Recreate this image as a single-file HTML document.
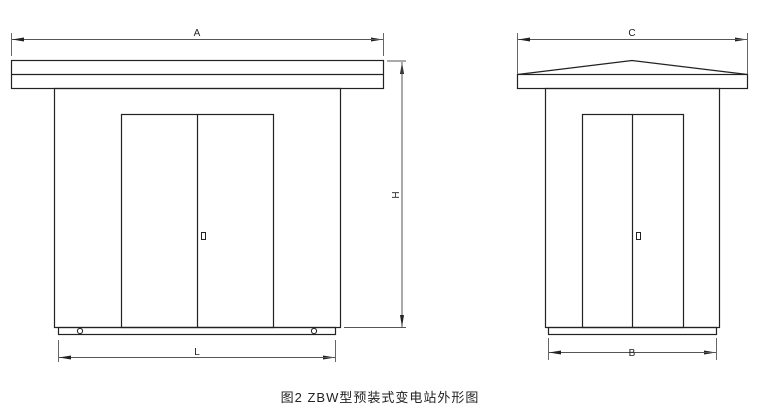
<!DOCTYPE html>
<html><head><meta charset="utf-8"><style>
html,body{margin:0;padding:0;background:#fff;}
svg{display:block;}
text{font-family:"Liberation Sans","Noto Sans CJK SC",sans-serif;fill:#222;}
</style></head><body>
<svg width="780" height="417" viewBox="0 0 780 417" xmlns="http://www.w3.org/2000/svg">
<defs>
<marker id="ar" markerWidth="12" markerHeight="6" refX="12" refY="3" orient="auto" markerUnits="userSpaceOnUse">
<path d="M0,1 L12,3 L0,5 Z" fill="#222"/></marker>
</defs>
<g stroke="#222" fill="none" stroke-width="1.2">
<!-- left view -->
<rect x="11.5" y="60.5" width="372" height="28"/>
<line x1="11.5" y1="74.5" x2="383.5" y2="74.5"/>
<rect x="54.5" y="88.5" width="286" height="239"/>
<rect x="121.5" y="114.5" width="152" height="213"/>
<line x1="197.5" y1="114.5" x2="197.5" y2="327.5"/>
<rect x="201.5" y="232.5" width="4" height="7" stroke-width="1"/>
<rect x="58.5" y="327.5" width="277" height="7"/>
<circle cx="80" cy="331" r="2.6" stroke-width="1"/>
<circle cx="314" cy="331" r="2.6" stroke-width="1"/>
<!-- right view -->
<rect x="517.5" y="74.5" width="230" height="14"/>
<polyline points="517.5,74.5 632,60.5 747.5,74.5"/>
<rect x="545.5" y="88.5" width="174" height="239"/>
<rect x="582.5" y="114.5" width="101" height="213"/>
<line x1="632.5" y1="114.5" x2="632.5" y2="327.5"/>
<rect x="636.5" y="232.5" width="4" height="7" stroke-width="1"/>
<rect x="548.5" y="327.5" width="168" height="7"/>
</g>
<g stroke="#555" stroke-width="0.9" fill="none">
<!-- A -->
<line x1="11.5" y1="33" x2="11.5" y2="56"/><line x1="383.5" y1="33" x2="383.5" y2="56"/>
<line x1="12" y1="39.5" x2="383" y2="39.5" marker-end="url(#ar)" marker-start="url(#ar)" style="marker-start:none"/>
<line x1="383" y1="39.5" x2="12" y2="39.5" marker-end="url(#ar)"/>
<!-- H -->
<line x1="387" y1="61" x2="406" y2="61"/><line x1="344" y1="327.5" x2="406" y2="327.5"/>
<line x1="402" y1="327" x2="402" y2="62" marker-end="url(#ar)"/>
<line x1="402" y1="62" x2="402" y2="327" marker-end="url(#ar)"/>
<!-- L -->
<line x1="58.5" y1="340" x2="58.5" y2="362"/><line x1="335.5" y1="340" x2="335.5" y2="362"/>
<line x1="59" y1="357.5" x2="335" y2="357.5" marker-end="url(#ar)"/>
<line x1="335" y1="357.5" x2="59" y2="357.5" marker-end="url(#ar)"/>
<!-- C -->
<line x1="517.5" y1="33" x2="517.5" y2="74"/><line x1="747.5" y1="33" x2="747.5" y2="74"/>
<line x1="518" y1="39.5" x2="747" y2="39.5" marker-end="url(#ar)"/>
<line x1="747" y1="39.5" x2="518" y2="39.5" marker-end="url(#ar)"/>
<!-- B -->
<line x1="548.5" y1="338" x2="548.5" y2="360"/><line x1="716.5" y1="338" x2="716.5" y2="360"/>
<line x1="549" y1="352.5" x2="716" y2="352.5" marker-end="url(#ar)"/>
<line x1="716" y1="352.5" x2="549" y2="352.5" marker-end="url(#ar)"/>
</g>
<text x="197" y="36" font-size="10" text-anchor="middle">A</text>
<text x="632" y="36" font-size="10" text-anchor="middle">C</text>
<text x="197" y="355" font-size="10" text-anchor="middle">L</text>
<text x="632" y="356" font-size="10" text-anchor="middle">B</text>
<text x="0" y="0" font-size="10" text-anchor="middle" transform="translate(392,195) rotate(90)">H</text>
<text x="380" y="402" font-size="13" text-anchor="middle" letter-spacing="1">图2 ZBW型预装式变电站外形图</text>
</svg>
</body></html>
